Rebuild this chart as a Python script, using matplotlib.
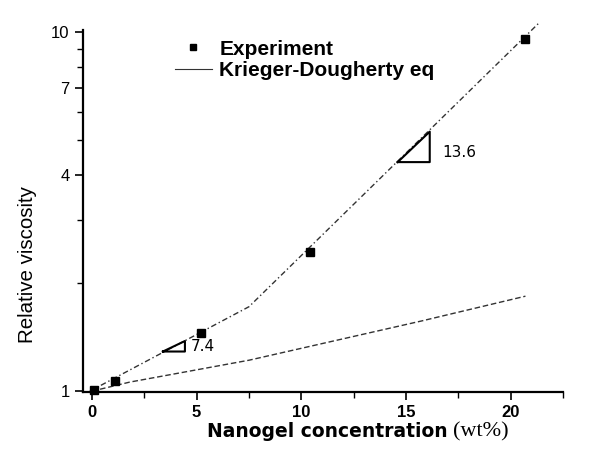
import numpy as np
import matplotlib
matplotlib.use("Agg")
import matplotlib.pyplot as plt
from matplotlib.lines import Line2D
from matplotlib.ticker import FixedLocator, NullFormatter

# Datos
conc_exp = [0.1, 1.1, 5.2, 10.4, 20.7]
visc_exp = [1.006, 1.07, 1.45, 2.45, 9.56]

# Ajuste por tramos (línea punteada)
conc_fit = [-0.1, 7.5, 21.4]
visc_fit = [1.0, 1.72, 10.7]

# Ecuación de Krieger-Dougherty
conc_kd = [0.0, 1.8, 7.5, 15.75, 20.7]
visc_kd = [1.0, 1.06, 1.22, 1.57, 1.84]

# Triángulos de pendiente: (x0, y0, x1, y1), texto
tri_small = (3.39, 1.29, 4.44, 1.38)
tri_big = (14.6, 4.35, 16.13, 5.29)
slope_labels = ["7.4", "13.6"]

yticks_major = [1, 4, 7, 10]
yticks_minor = [2, 3, 5, 6, 8, 9]
xticks_major = [0, 5, 10, 15, 20]
xticks_minor = [2.5, 7.5, 12.5, 17.5, 22.5]

plt.rcParams['font.family'] = ['Liberation Sans', 'DejaVu Sans']

fig = plt.figure(figsize=(6.01, 4.70), dpi=100)
ax = fig.add_axes([0.138, 0.166, 0.799, 0.770])

ax.plot(conc_fit, visc_fit, color='#333333', lw=1.0, ls=(0, (4, 2, 1, 2)), clip_on=False)
ax.plot(conc_kd, visc_kd, color='#333333', lw=1.0, ls=(0, (4, 2)))
ax.plot(conc_exp, visc_exp, ls='none', marker='s', ms=6, color='black', clip_on=False, zorder=5)

# Triángulos
for (x0, y0, x1, y1), lab in zip([tri_small, tri_big], slope_labels):
    ax.plot([x0, x1, x1, x0], [y0, y1, y0, y0], color='black', lw=1.5)
    if lab == "7.4":
        ax.text(x1 + 0.3, np.sqrt(y0 * y1), lab, fontsize=11, family='DejaVu Sans',
                va='center', ha='left')
    else:
        ax.text(x1 + 0.6, y0 * 1.065, lab, fontsize=11, family='DejaVu Sans',
                va='center', ha='left')

ax.set_yscale('log')
ax.set_xlim(-0.43, 22.48)
ax.set_ylim(0.995, 10.15)
ax.yaxis.set_major_locator(FixedLocator(yticks_major))
ax.yaxis.set_minor_locator(FixedLocator(yticks_minor))
ax.yaxis.set_minor_formatter(NullFormatter())
ax.set_yticklabels([str(v) for v in yticks_major])
ax.set_xticks(xticks_major)
ax.set_xticks(xticks_minor, minor=True)

for s in ['top', 'right']:
    ax.spines[s].set_visible(False)
for s in ['left', 'bottom']:
    ax.spines[s].set_linewidth(1.6)

ax.tick_params(axis='both', which='major', length=6, width=1.2, labelsize=12)
ax.tick_params(axis='both', which='minor', length=4, width=1.0)
for t in ax.get_xticklabels():
    t.set_fontweight('bold')

fig.text(0.045, 0.438, "Relative viscosity", fontsize=14.8, rotation=90,
         ha='center', va='center')
fig.text(0.745, 0.081, "Nanogel concentration", fontsize=13.5, fontweight='bold',
         family='DejaVu Sans', ha='right', va='center')
fig.text(0.754, 0.081, "(wt%)", fontsize=16, family='Liberation Serif',
         ha='left', va='center')

handles = [Line2D([], [], ls='none', marker='s', ms=5, color='black'),
           Line2D([], [], color='#333333', lw=0.8)]
leg = ax.legend(handles, ["Experiment", "Krieger-Dougherty eq"], loc='upper left',
                bbox_to_anchor=(0.152, 1.025), frameon=False, fontsize=15,
                handlelength=1.8, handletextpad=0.35, labelspacing=0.12)
for t in leg.get_texts():
    t.set_fontweight('bold')

fig.savefig("out.png", dpi=100)
